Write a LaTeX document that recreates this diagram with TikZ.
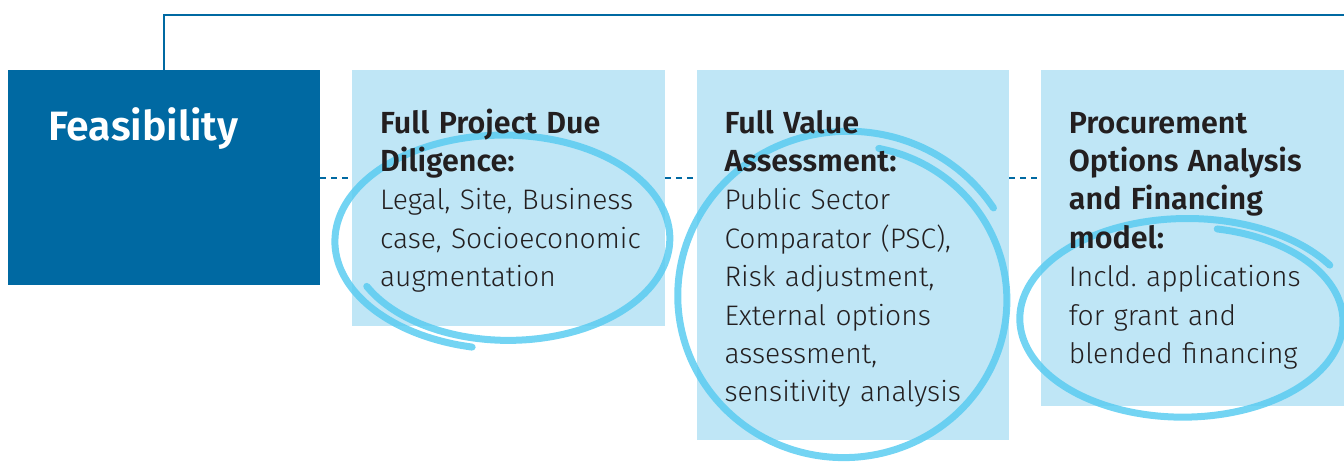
\documentclass[tikz,border=0pt]{standalone}
\usepackage{fontspec}
\setmainfont{Fira Sans}[UprightFont=* Light, BoldFont=* SemiBold]
\usetikzlibrary{positioning}

\definecolor{darkblue}{HTML}{0069A2}
\definecolor{paleblue}{HTML}{BFE6F6}
\definecolor{ringblue}{HTML}{5BCCF1}
\definecolor{inkgray}{HTML}{231F20}

\tikzset{
    stagebox/.style={fill=paleblue, inner sep=0pt, minimum width=312.5pt, anchor=north west},
    stagetext/.style={text=inkgray, inner sep=0pt, align=left, text width=300pt,
        font=\fontsize{28.2}{38.4}\selectfont, anchor=base west},
    ring/.style={ringblue, opacity=0.85, line width=7pt, line cap=round},
    linkline/.style={darkblue, line width=2.2pt},
    dashlink/.style={darkblue, line width=2pt, dash pattern=on 6pt off 5pt}
}

% hand drawn loop: cx, cy, rx, ry, start angle, end angle
\newcommand\handring[6]{%
    \draw[ring] plot[smooth, samples=90, domain=0:1]
        ({#1+#3*(0.95+0.1*\x)*cos(#5+(#6-#5)*\x)},
         {#2+#4*(0.95+0.1*\x)*sin(#5+(#6-#5)*\x)});}
\newcommand\headline[1]{{\fontsize{30.5}{38.4}\selectfont\bfseries #1}}

\begin{document}
\frenchspacing
\begin{tikzpicture}[x=1pt, y=-1pt]
    \useasboundingbox (0,0) rectangle (1344,466);

    % draw the stage boxes
    \node (feas) [stagebox, fill=darkblue, minimum width=312pt, minimum height=215pt] at (8,70) {};
    \node (box1) [stagebox, minimum height=256pt, right=31.5pt of feas.north east, anchor=north west] {};
    \node (box2) [stagebox, minimum height=370pt, right=31.5pt of box1.north east, anchor=north west] {};
    \node (box3) [stagebox, minimum width=330pt, minimum height=336pt, right=31.5pt of box2.north east, anchor=north west] {};

    % draw line from feasibility to the top
    \coordinate (topend) at (1350,15);
    \draw[linkline] (feas.north) |- (topend);

    % draw the dashed links between the boxes
    \coordinate (dl) at (0,178);
    \draw[dashlink] (feas.east |- dl) -- (box1.west |- dl);
    \draw[dashlink] (box1.east |- dl) -- (box2.west |- dl);
    \draw[dashlink] (box2.east |- dl) -- (box3.west |- dl);

    % draw the hand drawn loops
    \handring{506}{240}{166}{104}{512}{101}
    \handring{846}{298}{166}{161}{282}{688}
    \handring{1185}{320}{163}{98}{282}{688}

    % fill the text in boxes
    \node (feastitle) [stagetext, text=white, font=\fontsize{41}{44}\selectfont\bfseries]
        at ([shift={(40,70)}]feas.north west) {Feasibility};
    \node (text1) [stagetext] at ([shift={(28,63)}]box1.north west)
        {\headline{Full Project Due}\\ \headline{Diligence:}\\ Legal, Site, Business\\ case, Socioeconomic\\ augmentation};
    \node (text2) [stagetext] at ([shift={(28,63)}]box2.north west)
        {\headline{Full Value}\\ \headline{Assessment:}\\ Public Sector\\ Comparator (PSC),\\ Risk adjustment,\\ External options\\ assessment,\\ sensitivity analysis};
    \node (text3) [stagetext] at ([shift={(28,63)}]box3.north west)
        {\headline{Procurement}\\ \headline{Options Analysis}\\ \headline{and Financing}\\ \headline{model:}\\ Incld. applications\\ for grant and\\ blended financing};
\end{tikzpicture}
\end{document}
